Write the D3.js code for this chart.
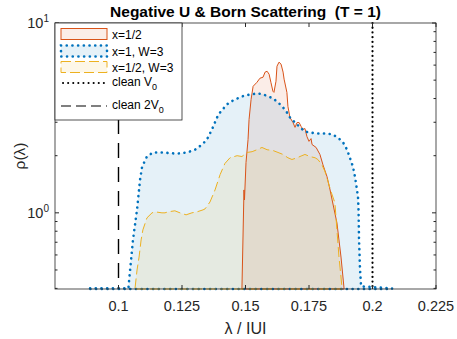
<!DOCTYPE html>
<html>
<head>
<meta charset="utf-8">
<script src="https://cdn.jsdelivr.net/npm/d3@7"></script>
<style>
  body { margin: 0; background: #fff; }
  text { font-family: "Liberation Sans", Arial, Helvetica, sans-serif; white-space: pre; }
</style>
</head>
<body>
<div id="chart"></div>
<script>

// ---- data ----
var xTicks = [0.1, 0.125, 0.15, 0.175, 0.2, 0.225];
var yMajor = [1, 10];

// x=1/2 (orange, solid)
var halfX = [0.1486, 0.1494, 0.1496, 0.1502, 0.1510, 0.1514, 0.1522, 0.1530, 0.1545, 0.1557, 0.1569, 0.1577, 0.1585, 0.1593, 0.1600, 0.1608, 0.1612, 0.1620, 0.1624, 0.1632, 0.1640, 0.1648, 0.1652, 0.1663, 0.1667, 0.1675, 0.1687, 0.1695, 0.1703, 0.1711, 0.1719, 0.1726, 0.1734, 0.1742, 0.1750, 0.1758, 0.1762, 0.1778, 0.1793, 0.1805, 0.1821, 0.1833, 0.1841, 0.1860, 0.1876, 0.1888];
var halfY = [0.40, 1.32, 1.17, 1.84, 2.43, 3.10, 3.96, 4.64, 4.87, 5.12, 5.18, 5.51, 5.57, 5.37, 4.87, 4.37, 4.31, 4.93, 5.92, 6.22, 6.07, 5.51, 5.06, 4.31, 3.64, 3.18, 2.99, 2.82, 2.99, 2.99, 2.85, 2.75, 2.78, 2.52, 2.38, 2.46, 2.29, 2.21, 2.03, 1.79, 1.55, 1.32, 1.17, 0.885, 0.585, 0.40];

// x=1, W=3 (blue, dotted)
var oneWX = [0.0888, 0.1039, 0.1041, 0.1057, 0.1073, 0.1085, 0.1093, 0.1112, 0.1136, 0.1175, 0.1230, 0.1270, 0.1301, 0.1329, 0.1348, 0.1368, 0.1388, 0.1400, 0.1427, 0.1451, 0.1478, 0.1498, 0.1526, 0.1545, 0.1569, 0.1589, 0.1608, 0.1628, 0.1648, 0.1663, 0.1675, 0.1695, 0.1715, 0.1734, 0.1754, 0.1781, 0.1813, 0.1841, 0.1864, 0.1884, 0.1900, 0.1911, 0.1923, 0.1931, 0.1939, 0.1943, 0.1945, 0.1947, 0.1951, 0.1955, 0.2077];
var oneWY = [0.40, 0.40, 0.43, 0.72, 1.04, 1.50, 1.75, 1.98, 2.08, 2.08, 2.05, 2.08, 2.15, 2.29, 2.43, 2.75, 3.18, 3.38, 3.73, 3.91, 4.06, 4.16, 4.21, 4.26, 4.21, 4.11, 4.01, 3.82, 3.59, 3.38, 3.18, 2.99, 2.82, 2.68, 2.65, 2.62, 2.62, 2.59, 2.49, 2.35, 2.15, 1.95, 1.75, 1.55, 1.32, 1.20, 1.04, 0.72, 0.50, 0.41, 0.40];

// x=1/2, W=3 (yellow, dashed)
var halfWX = [0.1065, 0.1073, 0.1081, 0.1089, 0.1096, 0.1112, 0.1132, 0.1144, 0.1171, 0.1183, 0.1195, 0.1222, 0.1242, 0.1266, 0.1289, 0.1309, 0.1333, 0.1341, 0.1360, 0.1380, 0.1400, 0.1419, 0.1439, 0.1467, 0.1486, 0.1506, 0.1526, 0.1545, 0.1565, 0.1585, 0.1608, 0.1628, 0.1648, 0.1667, 0.1683, 0.1703, 0.1722, 0.1734, 0.1754, 0.1774, 0.1785, 0.1801, 0.1813, 0.1825, 0.1837, 0.1852, 0.1860, 0.1868, 0.1876, 0.1880];
var halfWY = [0.40, 0.50, 0.585, 0.72, 0.813, 0.941, 1.00, 1.012, 1.00, 1.00, 1.012, 1.025, 1.00, 0.976, 1.00, 1.012, 1.037, 1.05, 1.14, 1.32, 1.59, 1.82, 1.95, 2.00, 1.98, 2.08, 2.10, 2.15, 2.21, 2.15, 2.13, 2.08, 2.03, 1.95, 1.91, 1.95, 2.00, 2.03, 1.98, 1.95, 1.91, 1.79, 1.65, 1.46, 1.29, 1.13, 0.813, 0.585, 0.459, 0.40];

var cleanV0 = 0.2;
var clean2V0 = 0.1;

// ---- layout ----
var W = 457, H = 339;
var margin = {top: 23, right: 21, bottom: 50, left: 55};
var width = W - margin.left - margin.right;
var height = H - margin.top - margin.bottom;
var axisColor = "#262626";

var svg = d3.select("#chart").append("svg")
  .attr("width", W)
  .attr("height", H);

var g = svg.append("g")
  .attr("transform", "translate(" + margin.left + "," + margin.top + ")");

var x = d3.scaleLinear().domain([0.075, 0.225]).range([0, width]);
var yMin = 0.397;
var y = d3.scaleLog().domain([yMin, 10]).range([height, 0]);

g.append("clipPath").attr("id", "clip")
  .append("rect").attr("width", width).attr("height", height);

var series = [
  {name: "x=1/2", xs: halfX, ys: halfY, color: "#D95319", dash: null, lw: 1},
  {name: "x=1, W=3", xs: oneWX, ys: oneWY, color: "#0072BD", dash: "0.1,5.6", lw: 2.6, cap: "round"},
  {name: "x=1/2, W=3", xs: halfWX, ys: halfWY, color: "#EDB120", dash: "10,4", lw: 1}
];

var area = d3.area()
  .x(function(d) { return x(d[0]); })
  .y0(y(yMin))
  .y1(function(d) { return y(Math.max(d[1], yMin)); });

var plot = g.append("g").attr("clip-path", "url(#clip)");

series.forEach(function(s) {
  var pts = s.xs.map(function(v, i) { return [v, s.ys[i]]; });
  plot.append("path")
    .datum(pts)
    .attr("d", area)
    .attr("fill", s.color)
    .attr("fill-opacity", 0.1)
    .attr("stroke", "none");
});

series.forEach(function(s) {
  var pts = s.xs.map(function(v, i) { return [v, s.ys[i]]; });
  g.append("path")
    .datum(pts)
    .attr("d", area)
    .attr("fill", "none")
    .attr("stroke", s.color)
    .attr("stroke-width", s.lw)
    .attr("stroke-dasharray", s.dash)
    .attr("stroke-linecap", s.cap || "butt")
    .attr("stroke-linejoin", "round");
});

// clean V0 (dotted) and clean 2V0 (dashed)
g.append("line")
  .attr("x1", x(cleanV0)).attr("x2", x(cleanV0))
  .attr("y1", 0).attr("y2", height)
  .attr("stroke", "#000").attr("stroke-width", 2.2)
  .attr("stroke-dasharray", "0.1,4.6").attr("stroke-linecap", "round");

g.append("line")
  .attr("x1", x(clean2V0)).attr("x2", x(clean2V0))
  .attr("y1", 0).attr("y2", height)
  .attr("stroke", "#000").attr("stroke-width", 1.4)
  .attr("stroke-dasharray", "15,9");

// ---- axes ----
var ax = g.append("g").attr("stroke", axisColor).attr("fill", "none");
ax.append("rect").attr("width", width).attr("height", height).attr("stroke-width", 0.8);

var minors = [];
[0.1, 1].forEach(function(dec) {
  for (var k = 2; k <= 9; k++) {
    var v = k * dec;
    if (v > yMin && v < 10) minors.push(v);
  }
});

xTicks.forEach(function(t) {
  var px = x(t);
  ax.append("line").attr("x1", px).attr("x2", px).attr("y1", height).attr("y2", height - 4);
  ax.append("line").attr("x1", px).attr("x2", px).attr("y1", 0).attr("y2", 4);
});
yMajor.forEach(function(t) {
  var py = y(t);
  ax.append("line").attr("x1", 0).attr("x2", 4).attr("y1", py).attr("y2", py);
  ax.append("line").attr("x1", width).attr("x2", width - 4).attr("y1", py).attr("y2", py);
});
minors.forEach(function(t) {
  var py = y(t);
  ax.append("line").attr("x1", 0).attr("x2", 2.5).attr("y1", py).attr("y2", py);
  ax.append("line").attr("x1", width).attr("x2", width - 2.5).attr("y1", py).attr("y2", py);
});

g.selectAll(".xtl").data(xTicks).enter().append("text")
  .attr("class", "xtl")
  .attr("x", function(d) { return x(d); })
  .attr("y", height + 22)
  .attr("text-anchor", "middle")
  .attr("font-size", 14.5)
  .attr("fill", axisColor)
  .text(function(d) { return String(d); });

yMajor.forEach(function(t) {
  var tx = g.append("text")
    .attr("x", -6)
    .attr("y", y(t) + 5)
    .attr("text-anchor", "end")
    .attr("font-size", 14.5)
    .attr("fill", axisColor);
  tx.append("tspan").text("10");
  tx.append("tspan").attr("dy", -6).attr("font-size", 10).text(String(Math.round(Math.log10(t))));
});

// labels
svg.append("text")
  .attr("x", margin.left + width / 2)
  .attr("y", 17)
  .attr("text-anchor", "middle")
  .attr("font-size", 15.5)
  .attr("font-weight", "bold")
  .attr("fill", "#000")
  .text("Negative U & Born Scattering  (T = 1)");

svg.append("text")
  .attr("x", margin.left + width / 2)
  .attr("y", 334)
  .attr("text-anchor", "middle")
  .attr("font-size", 16)
  .attr("fill", axisColor)
  .text("\u03bb / IUI");

svg.append("text")
  .attr("transform", "translate(25," + (margin.top + height / 2) + ") rotate(-90)")
  .attr("text-anchor", "middle")
  .attr("font-size", 15.5)
  .attr("fill", axisColor)
  .text("\u03c1(\u03bb)");

// ---- legend ----
var leg = g.append("g");
leg.append("rect")
  .attr("x", 0).attr("y", 0).attr("width", 127).attr("height", 97)
  .attr("fill", "#fff").attr("stroke", axisColor).attr("stroke-width", 0.8);

var rowY = [11, 28, 44, 60, 83];
series.forEach(function(s, i) {
  leg.append("rect")
    .attr("x", 6).attr("y", rowY[i] - 5.5).attr("width", 46).attr("height", 11)
    .attr("fill", s.color).attr("fill-opacity", 0.1)
    .attr("stroke", s.color).attr("stroke-width", s.lw)
    .attr("stroke-dasharray", s.dash)
    .attr("stroke-linecap", s.cap || "butt");
  leg.append("text")
    .attr("x", 57).attr("y", rowY[i] + 4.5)
    .attr("font-size", 12).attr("fill", "#000")
    .text(s.name);
});

leg.append("line")
  .attr("x1", 8).attr("x2", 52).attr("y1", rowY[3]).attr("y2", rowY[3])
  .attr("stroke", "#000").attr("stroke-width", 2)
  .attr("stroke-dasharray", "0.1,5").attr("stroke-linecap", "round");
leg.append("line")
  .attr("x1", 6).attr("x2", 52).attr("y1", rowY[4]).attr("y2", rowY[4])
  .attr("stroke", "#000").attr("stroke-width", 1.2)
  .attr("stroke-dasharray", "10,5");

[["clean V", 3], ["clean 2V", 4]].forEach(function(p) {
  var t = leg.append("text")
    .attr("x", 57).attr("y", rowY[p[1]] + 3)
    .attr("font-size", 12).attr("fill", "#000");
  t.append("tspan").text(p[0]);
  t.append("tspan").attr("dy", 4).attr("font-size", 9).text("0");
});

</script>
</body>
</html>
